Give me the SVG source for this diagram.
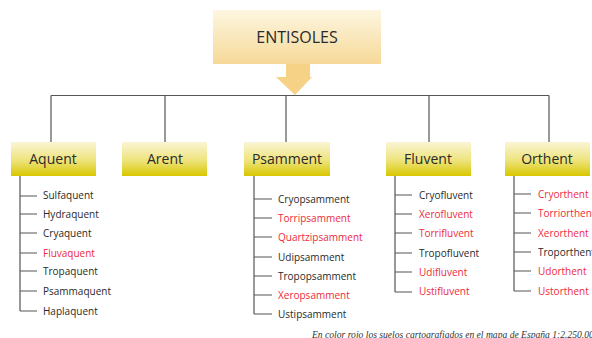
<svg xmlns="http://www.w3.org/2000/svg" width="592" height="338" viewBox="0 0 592 338">
<defs>
<linearGradient id="gTop" x1="0" y1="0" x2="0" y2="1">
<stop offset="0" stop-color="#fdf6e0"/>
<stop offset="1" stop-color="#f6d998"/>
</linearGradient>
<linearGradient id="gBox" x1="0" y1="0" x2="0" y2="1">
<stop offset="0" stop-color="#faf5d6"/>
<stop offset="0.55" stop-color="#eee37a"/>
<stop offset="1" stop-color="#d8c600"/>
</linearGradient>
<marker id="ah" viewBox="0 0 8 8" refX="4" refY="8" markerWidth="7" markerHeight="7" markerUnits="userSpaceOnUse" orient="auto-start-reverse">
<path d="M0,0 L8,0 L4,8 Z" fill="#333"/>
</marker>
</defs>
<style>
.box{fill:url(#gBox);}
.head{font-family:"Open Sans","Liberation Sans",sans-serif;font-size:14px;fill:#2a2a2a;text-anchor:middle;}
.it{font-family:"Open Sans","Liberation Sans",sans-serif;font-size:10px;fill:#2a2a2a;}
.red{fill:#ee2a3a;}
.ln{stroke:#555;stroke-width:1.2;fill:none;}
.cap{font-family:"Liberation Serif",serif;font-style:italic;font-size:9.6px;fill:#333;}
</style>
<rect width="592" height="338" fill="#fff"/>
<g id="entisoles">
<rect x="213" y="10" width="168" height="54" fill="url(#gTop)"/>
<text x="297" y="43" class="head" style="font-size:16px">ENTISOLES</text>
<path d="M286,64 H310 V77 H312 L295,95 L276,77 H286 Z" fill="#f6d287"/>
</g>
<g id="connectors">
<path class="ln" d="M51,95.5 H549"/>
<path class="ln" d="M51,95.5 V146" marker-end="url(#ah)"/>
<path class="ln" d="M165,95.5 V146" marker-end="url(#ah)"/>
<path class="ln" d="M286,95.5 V146" marker-end="url(#ah)"/>
<path class="ln" d="M429,95.5 V146" marker-end="url(#ah)"/>
<path class="ln" d="M549,95.5 V146" marker-end="url(#ah)"/>
<path class="ln" d="M20,176 V311 M20,196 H37 M20,214 H37 M20,233 H37 M20,253 H37 M20,271 H37 M20,291 H37 M20,311 H37"/>
<path class="ln" d="M254,176 V314 M254,199 H272 M254,218 H272 M254,237 H272 M254,257 H272 M254,276 H272 M254,295 H272 M254,314 H272"/>
<path class="ln" d="M395,176 V292 M395,195 H412 M395,214 H412 M395,233 H412 M395,253 H412 M395,272 H412 M395,292 H412"/>
<path class="ln" d="M514,176 V291 M514,194 H531 M514,213 H531 M514,233 H531 M514,252 H531 M514,271 H531 M514,291 H531"/>
</g>
<g id="aquent">
<rect class="box" x="11" y="142" width="85" height="34"/>
<text x="53" y="164" class="head">Aquent</text>
<text class="it" x="43" y="199">Sulfaquent</text>
<text class="it" x="43" y="217.5">Hydraquent</text>
<text class="it" x="43" y="236.5">Cryaquent</text>
<text class="it red" x="43" y="256.5">Fluvaquent</text>
<text class="it" x="43" y="275">Tropaquent</text>
<text class="it" x="43" y="294.5">Psammaquent</text>
<text class="it" x="43" y="314.5">Haplaquent</text>
</g>
<g id="arent">
<rect class="box" x="122" y="142" width="85" height="34"/>
<text x="165" y="164" class="head">Arent</text>
</g>
<g id="psamment">
<rect class="box" x="244" y="142" width="86" height="34"/>
<text x="287" y="164" class="head">Psamment</text>
<text class="it" x="278" y="202.5">Cryopsamment</text>
<text class="it red" x="278" y="221.5">Torripsamment</text>
<text class="it red" x="278" y="240.5">Quartzipsamment</text>
<text class="it" x="278" y="260.5">Udipsamment</text>
<text class="it" x="278" y="279.5">Tropopsamment</text>
<text class="it red" x="278" y="298.5">Xeropsamment</text>
<text class="it" x="278" y="317.5">Ustipsamment</text>
</g>
<g id="fluvent">
<rect class="box" x="386" y="142" width="85" height="34"/>
<text x="428" y="164" class="head">Fluvent</text>
<text class="it" x="419" y="198.5">Cryofluvent</text>
<text class="it red" x="419" y="217.5">Xerofluvent</text>
<text class="it red" x="419" y="236.5">Torrifluvent</text>
<text class="it" x="419" y="256.5">Tropofluvent</text>
<text class="it red" x="419" y="275.5">Udifluvent</text>
<text class="it red" x="419" y="295">Ustifluvent</text>
</g>
<g id="orthent">
<rect class="box" x="505" y="142" width="85" height="34"/>
<text x="547" y="164" class="head">Orthent</text>
<text class="it red" x="538" y="197.5">Cryorthent</text>
<text class="it red" x="538" y="216.5">Torriorthent</text>
<text class="it red" x="538" y="236.5">Xerorthent</text>
<text class="it" x="538" y="255.5">Troporthent</text>
<text class="it red" x="538" y="274.5">Udorthent</text>
<text class="it red" x="538" y="294.5">Ustorthent</text>
</g>
<text class="cap" x="312" y="338">En color rojo los suelos cartografiados en el mapa de España 1:2.250.000</text>
</svg>
